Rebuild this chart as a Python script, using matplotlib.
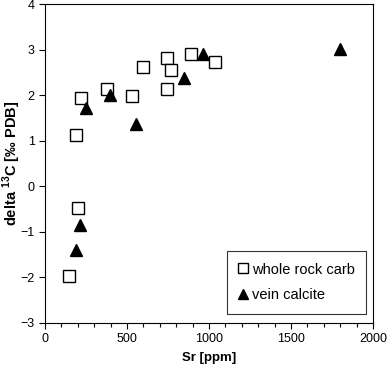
import matplotlib
matplotlib.use("Agg")
import matplotlib.pyplot as plt
from matplotlib.ticker import MultipleLocator

plt.rcParams["font.family"] = ["Liberation Sans", "DejaVu Sans"]
plt.rcParams["mathtext.fontset"] = "custom"
plt.rcParams["mathtext.bf"] = "Liberation Sans:bold"
plt.rcParams["mathtext.rm"] = "Liberation Sans"

# whole rock carbonate
rock_sr = [146, 190, 199, 220, 380, 533, 598, 742, 742, 767, 891, 1035]
rock_d13c = [-1.98, 1.12, -0.48, 1.95, 2.15, 1.99, 2.62, 2.82, 2.15, 2.56, 2.91, 2.73]

# vein calcite
vein_sr = [187, 213, 248, 395, 553, 846, 962, 1801]
vein_d13c = [-1.41, -0.86, 1.73, 2.00, 1.36, 2.38, 2.92, 3.03]

fig = plt.figure(figsize=(3.87, 3.65), dpi=100)
ax = fig.add_axes([0.1163, 0.1164, 0.8475, 0.8713])

ax.plot(rock_sr, rock_d13c, "s", ms=8, mfc="white", mec="black", mew=1.0,
        linestyle="none", label="whole rock carb")
ax.plot(vein_sr, vein_d13c, "^", ms=9, mfc="black", mec="black",
        linestyle="none", label="vein calcite")

ax.set_xlim(0, 2000)
ax.set_ylim(-3, 4)
ax.xaxis.set_major_locator(MultipleLocator(500))
ax.xaxis.set_minor_locator(MultipleLocator(100))
ax.yaxis.set_major_locator(MultipleLocator(1))
ax.tick_params(axis="both", labelsize=9, direction="out", length=4, width=0.8)
ax.tick_params(axis="x", which="minor", direction="out", length=3, width=0.8)
for s in ax.spines.values():
    s.set_linewidth(0.8)

ax.set_xlabel("Sr [ppm]", fontsize=9.5, fontweight="bold", labelpad=5)
# y label placed by hand so it stays inside the canvas
fig.text(12 / 387, 1 - 163 / 365, r"delta $^{\mathbf{13}}$C [‰ PDB]",
         rotation=90, ha="center", va="center", fontsize=10.5, fontweight="bold")

leg = ax.legend(loc="lower right", bbox_to_anchor=(0.979, 0.027), fontsize=10.5,
                frameon=True, fancybox=False, edgecolor="black", handlelength=0.6,
                markerscale=0.85, handletextpad=0.3, labelspacing=0.8,
                borderpad=0.8, borderaxespad=0)
leg.get_frame().set_linewidth(0.8)

fig.savefig("out.png", dpi=100)
